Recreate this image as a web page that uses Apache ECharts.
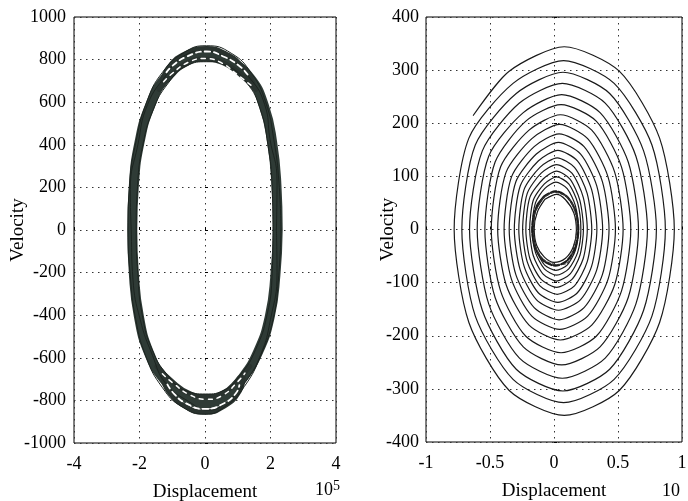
<!DOCTYPE html>
<html><head><meta charset="utf-8">
<script src="https://cdn.jsdelivr.net/npm/echarts@6/dist/echarts.min.js"></script>
<style>html,body{margin:0;padding:0;background:#fff}#c{width:688px;height:501px}</style>
</head><body><div id="c"></div>
<script>
// ---- Left panel: displacement (x 1e5) vs velocity ----
const leftXTicks = [-4, -2, 0, 2, 4];
const leftYTicks = [-1000, -800, -600, -400, -200, 0, 200, 400, 600, 800, 1000];
const leftBand = [[2.22,0],[2.18,215],[2.05,412],[1.80,583],[1.38,712],[0.75,792],[0.10,820],[-0.55,795],[-1.22,712],[-1.68,583],[-2.00,412],[-2.17,215],[-2.22,0],[-2.17,-212],[-2.02,-405],[-1.72,-573],[-1.25,-700],[-0.65,-782],[0.00,-815],[0.60,-782],[1.12,-700],[1.62,-573],[1.98,-405],[2.15,-212],[2.22,0]];
const leftThinA = [[2.32,0],[2.26,220],[2.10,425],[1.85,600],[1.42,735],[0.80,830],[0.05,865],[-0.62,835],[-1.30,740],[-1.78,600],[-2.10,420],[-2.30,220],[-2.35,0],[-2.28,-220],[-2.12,-415],[-1.80,-595],[-1.30,-740],[-0.70,-830],[0.00,-865],[0.62,-828],[1.20,-735],[1.70,-590],[2.08,-418],[2.25,-215],[2.32,0]];
const leftThinB = [[2.08,0],[2.05,205],[1.92,400],[1.68,570],[1.28,690],[0.68,770],[0.05,790],[-0.55,772],[-1.12,690],[-1.58,565],[-1.90,398],[-2.06,205],[-2.10,0],[-2.05,-205],[-1.92,-395],[-1.62,-560],[-1.15,-680],[-0.58,-755],[0.02,-770],[0.58,-752],[1.08,-680],[1.55,-560],[1.90,-395],[2.05,-205],[2.08,0]];
const leftThinC = [[2.18,0],[2.20,230],[1.98,430],[1.82,590],[1.30,725],[0.60,815],[-0.05,838],[-0.70,812],[-1.18,728],[-1.75,590],[-2.05,400],[-2.28,190],[-2.25,-20],[-2.20,-230],[-1.98,-420],[-1.60,-590],[-1.20,-720],[-0.50,-805],[0.10,-845],[0.72,-800],[1.25,-710],[1.70,-585],[2.00,-420],[2.20,-200],[2.18,0]];
const leftCapTopOuter = [[1.46,690],[1.15,765],[0.65,825],[0.05,852],[-0.60,828],[-1.10,765],[-1.30,700]];
const leftCapTopInner = [[1.55,660],[1.05,735],[0.55,785],[0.00,802],[-0.55,785],[-1.05,720],[-1.40,660]];
const leftCapBotOuter = [[-1.29,-690],[-1.10,-760],[-0.60,-828],[0.00,-855],[0.60,-826],[1.05,-755],[1.16,-690]];
const leftCapBotInner = [[-1.47,-640],[-1.00,-712],[-0.50,-765],[0.05,-782],[0.55,-765],[1.00,-705],[1.36,-640]];
const leftMeshTop1 = [[1.30,730],[1.05,770],[0.60,812],[0.05,838],[-0.55,815],[-1.00,770],[-1.20,735]];
const leftMeshTop2 = [[1.40,680],[1.00,728],[0.50,785],[0.00,805],[-0.50,788],[-1.00,735],[-1.30,690]];
const leftMeshBot1 = [[-1.15,-725],[-0.95,-768],[-0.60,-812],[0.00,-840],[0.60,-812],[0.95,-765],[1.05,-728]];
const leftMeshBot2 = [[-1.30,-675],[-0.95,-722],[-0.45,-775],[0.05,-795],[0.55,-775],[1.00,-712],[1.22,-672]];

// ---- Right panel: decaying spiral ----
const rightXTicks = [-1, -0.5, 0, 0.5, 1];
const rightYTicks = [-400, -300, -200, -100, 0, 100, 200, 300, 400];
const spiralPath = [
 [-0.63,215],
 [-0.35,298],[0.08,344],[0.51,298],[0.825,172],[0.94,0],[0.825,-175],[0.51,-303],[0.08,-350],[-0.35,-303],[-0.665,-175],[-0.78,0],[-0.665,172],
 [-0.32,275],[0.075,318],[0.47,275],[0.765,159],[0.87,0],[0.765,-163],[0.47,-282],[0.075,-326],[-0.32,-282],[-0.615,-163],[-0.72,0],[-0.615,159],
 [-0.295,256],[0.07,296],[0.435,256],[0.70,148],[0.80,0],[0.70,-152],[0.435,-263],[0.07,-304],[-0.295,-263],[-0.56,-152],[-0.66,0],[-0.56,148],
 [-0.27,238],[0.065,275],[0.40,238],[0.64,138],[0.73,0],[0.64,-140],[0.40,-242],[0.065,-280],[-0.27,-242],[-0.51,-140],[-0.60,0],[-0.51,138],
 [-0.24,220],[0.06,254],[0.36,220],[0.58,127],[0.66,0],[0.58,-128],[0.36,-221],[0.06,-255],[-0.24,-221],[-0.46,-128],[-0.54,0],[-0.46,127],
 [-0.22,204],[0.055,235],[0.33,204],[0.527,118],[0.60,0],[0.527,-116],[0.33,-201],[0.055,-232],[-0.22,-201],[-0.417,-116],[-0.49,0],[-0.417,118],
 [-0.195,187],[0.05,216],[0.295,187],[0.474,108],[0.54,0],[0.474,-104],[0.295,-180],[0.05,-208],[-0.195,-180],[-0.374,-104],[-0.44,0],[-0.374,108],
 [-0.173,171],[0.045,198],[0.263,171],[0.422,99],[0.48,0],[0.422,-94],[0.263,-163],[0.045,-188],[-0.173,-163],[-0.332,-94],[-0.39,0],[-0.332,99],
 [-0.155,156],[0.04,180],[0.235,156],[0.378,90],[0.43,0],[0.378,-85],[0.235,-147],[0.04,-170],[-0.155,-147],[-0.298,-85],[-0.35,0],[-0.298,90],
 [-0.138,142],[0.035,164],[0.208,142],[0.334,82],[0.38,0],[0.334,-76],[0.208,-132],[0.035,-152],[-0.138,-132],[-0.264,-76],[-0.31,0],[-0.264,82],
 [-0.123,129],[0.03,149],[0.183,129],[0.294,75],[0.335,0],[0.294,-69],[0.183,-119],[0.03,-137],[-0.123,-119],[-0.234,-69],[-0.275,0],[-0.234,75],
 [-0.11,117],[0.025,135],[0.16,117],[0.259,68],[0.295,0],[0.259,-61],[0.16,-106],[0.025,-122],[-0.11,-106],[-0.209,-61],[-0.245,0],[-0.209,68],
 [-0.10,106],[0.02,122],[0.14,106],[0.228,61],[0.26,0],[0.228,-55],[0.14,-94],[0.02,-109],[-0.10,-94],[-0.188,-55],[-0.22,0],[-0.188,61],
 [-0.085,95],[0.02,110],[0.125,95],[0.202,55],[0.23,0],[0.202,-49],[0.125,-84],[0.02,-97],[-0.085,-84],[-0.162,-49],[-0.19,0],[-0.162,55],
 [-0.075,86],[0.02,99],[0.115,86],[0.185,50],[0.21,0],[0.185,-43],[0.115,-74],[0.02,-86],[-0.075,-74],[-0.145,-43],[-0.17,0],[-0.145,50],
 [-0.073,77],[0.015,89],[0.103,77],[0.167,45],[0.19,0],[0.167,-39],[0.103,-67],[0.015,-77],[-0.073,-67],[-0.137,-39],[-0.16,0],[-0.137,45],
 [-0.08,62]
];
const limitCycleA = [[-0.08,62],[0.01,72],[0.10,62],[0.166,36],[0.19,0],[0.166,-34],[0.10,-59],[0.01,-68],[-0.08,-59],[-0.146,-34],[-0.17,0],[-0.146,36],[-0.08,62]];
const limitCycleB = [[-0.07,57],[0.02,66],[0.09,56],[0.155,31],[0.175,-2],[0.15,-33],[0.09,-54],[0.00,-62],[-0.075,-52],[-0.135,-30],[-0.155,2],[-0.13,33],[-0.07,57]];
const limitCycleC = [[-0.09,58],[0.00,70],[0.11,60],[0.17,30],[0.18,4],[0.158,-30],[0.11,-62],[0.02,-66],[-0.09,-55],[-0.15,-28],[-0.16,-3],[-0.15,30],[-0.09,58]];

const FONT = 'Liberation Serif';
const labelStyle = {fontFamily: FONT, fontSize: 18, color: '#000', formatter: v => String(v)};
const gridLine = {show: true, lineStyle: {color: '#333', width: 1, type: [1.5, 4.5]}};

function valAxis(ticks, gridIndex, extra) {
  return Object.assign({
    type: 'value', gridIndex,
    min: ticks[0], max: ticks[ticks.length - 1],
    interval: ticks[1] - ticks[0],
    axisLine: {show: false},
    axisTick: {show: true, inside: true, length: 3, lineStyle: {color: '#000'}},
    axisLabel: Object.assign({}, labelStyle),
    splitLine: gridLine,
    nameMoveOverlap: false,
    nameTextStyle: {fontFamily: FONT, fontSize: 19, color: '#000'}
  }, extra);
}

function line(data, xi, style, smooth) {
  return {
    type: 'line', xAxisIndex: xi, yAxisIndex: xi, data,
    showSymbol: false, symbol: 'none', smooth: smooth, animation: false,
    lineStyle: Object.assign({cap: 'round'}, style), z: 3
  };
}

const chart = echarts.init(document.getElementById('c'), null, {renderer: 'canvas'});
chart.setOption({
  backgroundColor: '#fff',
  animation: false,
  grid: [
    {left: 74, right: 352, top: 17, bottom: 58, outerBoundsMode: 'none', containLabel: false, show: true, borderColor: '#000', borderWidth: 1, backgroundColor: '#fff'},
    {left: 426, right: 6, top: 17, bottom: 59, outerBoundsMode: 'none', containLabel: false, show: true, borderColor: '#000', borderWidth: 1, backgroundColor: '#fff'}
  ],
  xAxis: [
    valAxis(leftXTicks, 0, {name: 'Displacement', nameLocation: 'middle', nameGap: 40, axisLabel: Object.assign({}, labelStyle, {margin: 12})}),
    valAxis(rightXTicks, 1, {name: 'Displacement', nameLocation: 'middle', nameGap: 40, axisLabel: Object.assign({}, labelStyle, {margin: 12})})
  ],
  yAxis: [
    valAxis(leftYTicks, 0, {name: 'Velocity', nameLocation: 'middle', nameGap: 46, axisLabel: Object.assign({}, labelStyle, {margin: 8})}),
    valAxis(rightYTicks, 1, {name: 'Velocity', nameLocation: 'middle', nameGap: 28, axisLabel: Object.assign({}, labelStyle, {margin: 7})})
  ],
  series: [
    line(leftBand, 0, {color: '#2f3b36', width: 10}, true),
    line(leftCapTopOuter, 0, {color: '#2a332f', width: 5}, true),
    line(leftCapTopInner, 0, {color: '#2a332f', width: 5}, true),
    line(leftCapBotOuter, 0, {color: '#2a332f', width: 5}, true),
    line(leftCapBotInner, 0, {color: '#2a332f', width: 5}, true),
    line(leftThinA, 0, {color: '#1c2420', width: 1}, true),
    line(leftThinB, 0, {color: '#1c2420', width: 1}, true),
    line(leftThinC, 0, {color: '#1c2420', width: 1}, true),
    line(leftMeshTop1, 0, {color: '#ffffff', width: 1.8, type: [5, 4]}, true),
    line(leftMeshTop2, 0, {color: '#ffffff', width: 1.5, type: [4, 5]}, true),
    line(leftMeshBot1, 0, {color: '#ffffff', width: 1.8, type: [5, 4]}, true),
    line(leftMeshBot2, 0, {color: '#ffffff', width: 1.5, type: [4, 5]}, true),
    line(spiralPath, 1, {color: '#1a1a1a', width: 1.2}, 0.25),
    line(limitCycleA, 1, {color: '#1a1a1a', width: 2.2, type: [6, 2]}, 0.3),
    line(limitCycleB, 1, {color: '#1a1a1a', width: 1.2}, 0.3),
    line(limitCycleC, 1, {color: '#333', width: 1.2, type: [3, 2]}, 0.3)
  ],
  graphic: [
    {type: 'text', left: 315, top: 479, style: {text: '{a|10}{b|5}', rich: {a: {fontFamily: FONT, fontSize: 18, fill: '#000'}, b: {fontFamily: FONT, fontSize: 14, fill: '#000', verticalAlign: 'top', padding: [0, 0, 8, 0]}}}},
    {type: 'text', left: 662, top: 482, style: {text: '10', font: '18px "Liberation Serif"', fill: '#000'}}
  ]
});
</script>
</body></html>
